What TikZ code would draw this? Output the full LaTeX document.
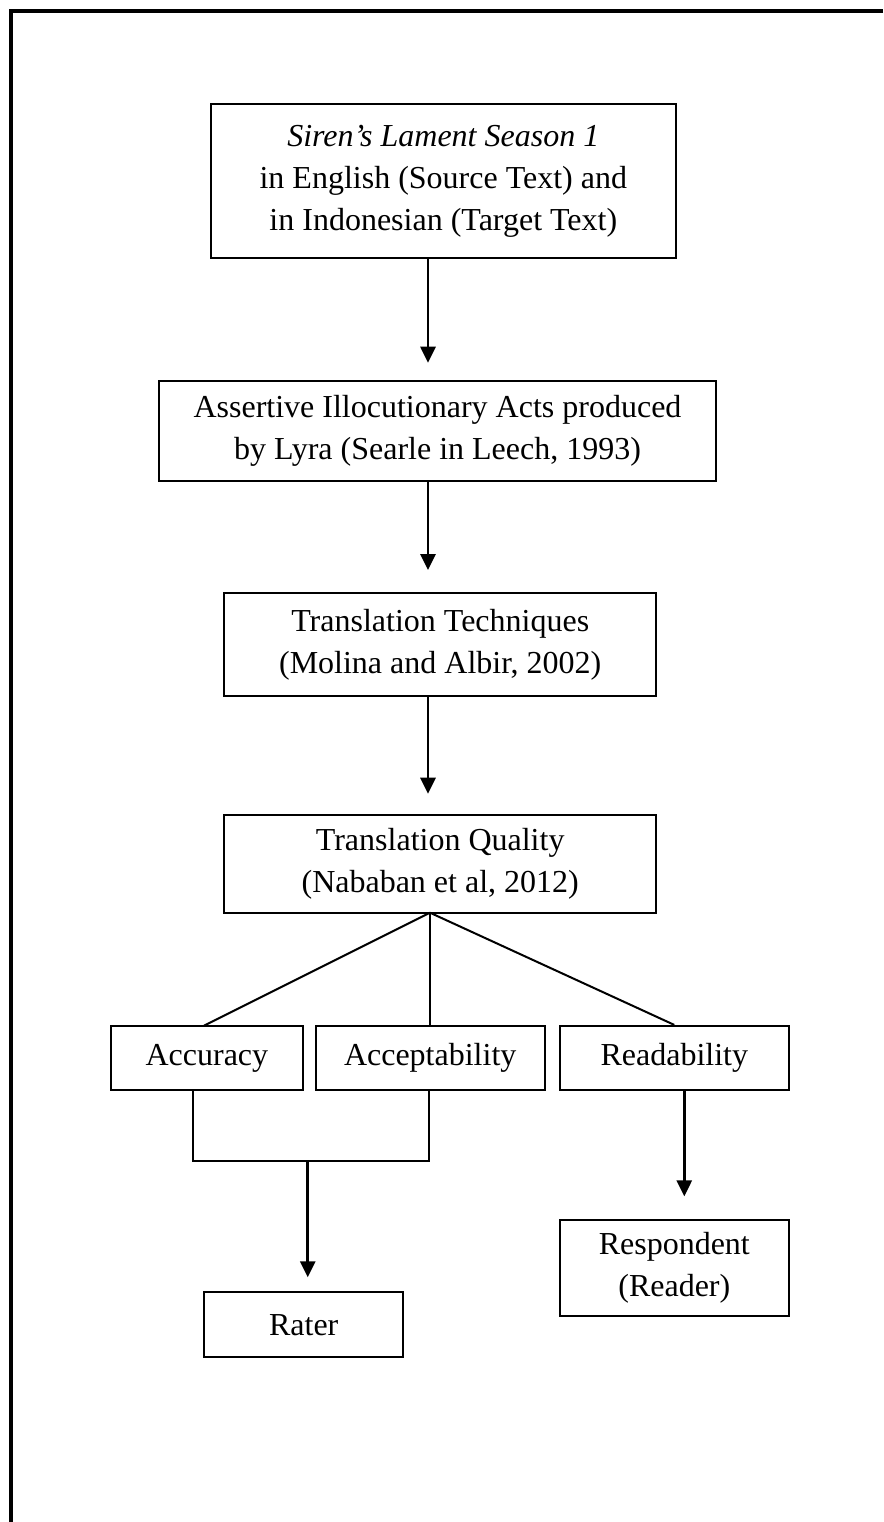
\documentclass[tikz,border=0pt]{standalone}
\usepackage{fontspec}
\setmainfont{Liberation Serif}
\usetikzlibrary{arrows.meta}
\begin{document}
\begin{tikzpicture}[x=1pt,y=-1pt,
  boxnode/.style={draw=black, line width=2pt, inner sep=0pt, align=center,
    font=\fontsize{32}{42}\selectfont},
  arr/.style={line width=2.8pt, -{Triangle[width=15pt,length=16pt]}},
  link/.style={line width=2pt},
  framel/.style={line width=3.8pt}]
\useasboundingbox (0,0) rectangle (883,1522);
% frame
\coordinate (fr) at (883,11);
\coordinate (fc) at (11,11);
\coordinate (fb) at (11,1522);
\draw[framel] (fr) -- (fc) -- (fb);
% boxes
\node[boxnode, minimum width=465pt, minimum height=154pt] (b1) at (443.3,180.9)
  {\textit{Siren’s Lament Season 1}\\in English (Source Text) and\\in Indonesian (Target Text)};
\node[boxnode, minimum width=557pt, minimum height=100pt] (b2) at (437.5,430.7)
  {Assertive Illocutionary Acts produced\\by Lyra (Searle in Leech, 1993)};
\node[boxnode, minimum width=432pt, minimum height=103pt] (b3) at (440.2,644.4)
  {Translation Techniques\\(Molina and Albir, 2002)};
\node[boxnode, minimum width=432pt, minimum height=98pt] (b4) at (440.2,863.5)
  {Translation Quality\\(Nababan et al, 2012)};
\node[boxnode, minimum width=192pt, minimum height=64pt] (acc) at (206.9,1057.9) {Accuracy};
\node[boxnode, minimum width=229pt, minimum height=64pt] (acp) at (430.2,1057.9) {Acceptability};
\node[boxnode, minimum width=229pt, minimum height=64pt] (rdb) at (674.3,1057.9) {Readability};
\node[boxnode, minimum width=199pt, minimum height=65pt] (rat) at (303.7,1324.8) {Rater};
\node[boxnode, minimum width=229pt, minimum height=96pt] (res) at (674.3,1267.5) {Respondent\\(Reader)};
% main arrows
\coordinate (t1) at (428,362.7);
\coordinate (t2) at (428,570);
\coordinate (t3) at (428,793.7);
\draw[arr] (b1.south -| t1) -- (t1);
\draw[arr] (b2.south -| t2) -- (t2);
\draw[arr] (b3.south -| t3) -- (t3);
% fan
\coordinate (apex) at (430,912.7);
\coordinate (accTop) at (204,1025.7);
\draw[link] (apex) -- (accTop);
\draw[link] (apex) -- (acp.north -| apex);
\draw[link] (apex) -- (rdb.north);
% bracket
\coordinate (bl) at (193.3,1160.7);
\coordinate (br) at (428.7,1160.7);
\coordinate (bm) at (307.7,1160.7);
\coordinate (t5) at (307.7,1277.3);
\draw[link] (acc.south -| bl) -- (bl) -- (br) -- (acp.south -| br);
\draw[arr] (bm) -- (t5);
% readability arrow
\coordinate (t6) at (684.3,1196.3);
\draw[arr] (rdb.south -| t6) -- (t6);
\end{tikzpicture}
\end{document}
